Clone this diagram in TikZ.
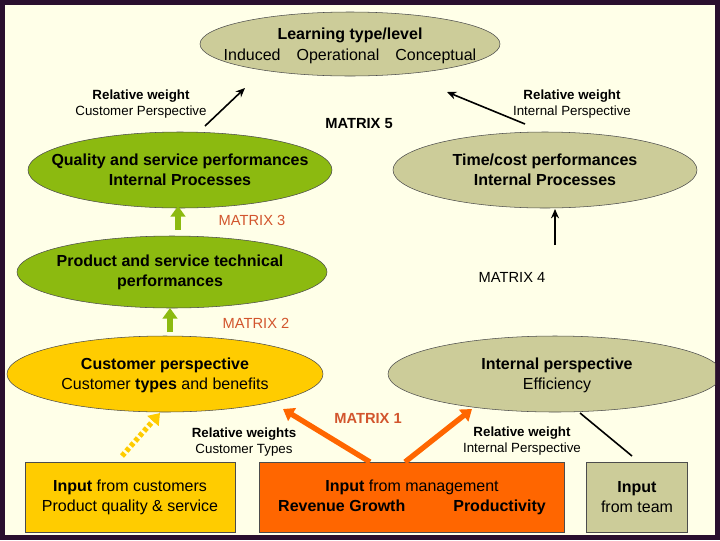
\documentclass[tikz,border=0pt]{standalone}
\usepackage{fontspec}
\setmainfont{Liberation Sans}
\usetikzlibrary{arrows.meta}
\definecolor{bord}{HTML}{2A0F2E}
\definecolor{bg}{HTML}{FFFFE8}
\definecolor{khaki}{HTML}{CCCC99}
\definecolor{grn}{HTML}{8CBA10}
\definecolor{gold}{HTML}{FFCC00}
\definecolor{orng}{HTML}{FF6600}
\definecolor{mred}{HTML}{D2552D}
\begin{document}
\begin{tikzpicture}[x=0.75pt,y=-0.75pt,
  box/.style={draw=black!70,line width=0.6pt,align=center,inner sep=0pt},
  lbl/.style={font=\fontsize{10}{12}\selectfont,align=center},
  big/.style={font=\bfseries\fontsize{12}{15}\selectfont,align=center},
  arr/.style={-{Stealth[length=7pt,width=6pt]},line width=1.2pt},
  fat/.style={-{Triangle[length=8pt,width=11pt]},line width=4pt}]
\fill[bord] (0,0) rectangle (720,540);
\fill[bg] (5,5) rectangle (715,535);
\begin{scope}
\clip (5,5) rectangle (715,535);
\path[draw=black!70,fill=khaki] (350,44) ellipse [x radius=150,y radius=32];
\path[draw=black!70,fill=grn] (180,170) ellipse [x radius=152,y radius=38];
\path[draw=black!70,fill=khaki] (545,170) ellipse [x radius=152,y radius=38];
\path[draw=black!70,fill=grn] (172,272) ellipse [x radius=155,y radius=36];
\path[draw=black!70,fill=gold] (165,374) ellipse [x radius=158,y radius=38];
\path[draw=black!70,fill=khaki] (555,374) ellipse [x radius=167,y radius=38];
\end{scope}
\node[font=\fontsize{12}{16}\selectfont,align=center] (top) at (350,46) {\textbf{Learning type/level}\\Induced\quad Operational\quad Conceptual};
\node[big] (qual) at (180,170) {Quality and service performances\\Internal Processes};
\node[big] (time) at (545,170) {Time/cost performances\\Internal Processes};
\node[big] (prod) at (170,272) {Product and service technical\\performances};
\node[font=\fontsize{12}{15}\selectfont,align=center] (cust) at (165,375) {\textbf{Customer perspective}\\Customer \textbf{types} and benefits};
\node[font=\fontsize{12}{15}\selectfont,align=center] (intp) at (557,375) {\textbf{Internal perspective}\\Efficiency};
\node[box,fill=gold,minimum width=210pt*0.75,minimum height=70pt*0.75,font=\fontsize{12}{15}\selectfont] (inc) at (130,497) {\textbf{Input} from customers\\Product quality \& service};
\node[box,fill=orng,minimum width=305pt*0.75,minimum height=70pt*0.75,font=\fontsize{12}{15}\selectfont] (inm) at (412,497) {\textbf{Input} from management\\\textbf{Revenue Growth}\hspace{3em}\textbf{Productivity}};
\node[box,fill=khaki,minimum width=101pt*0.75,minimum height=70pt*0.75,font=\fontsize{12}{15}\selectfont] (int) at (637,497) {\textbf{Input}\\from team};
\node[lbl] (l1) at (141,104) {\textbf{Relative weight}\\Customer Perspective};
\node[lbl] (l2) at (572,104) {\textbf{Relative weight}\\Internal Perspective};
\node[lbl,font=\bfseries\fontsize{11}{13}\selectfont] (m5) at (359,124) {MATRIX 5};
\node[font=\fontsize{11}{13}\selectfont,text=mred] (m3) at (252,220) {MATRIX 3};
\node[font=\fontsize{11}{13}\selectfont] (m4) at (512,277) {MATRIX 4};
\node[font=\fontsize{11}{13}\selectfont,text=mred] (m2) at (256,323) {MATRIX 2};
\node[font=\bfseries\fontsize{11}{13}\selectfont,text=mred] (m1) at (368,418) {MATRIX 1};
\node[lbl] (l3) at (244,442) {\textbf{Relative weights}\\Customer Types};
\node[lbl] (l4) at (522,441) {\textbf{Relative weight}\\Internal Perspective};
\coordinate (a1) at (205,126); \coordinate (a1e) at (245,88);
\coordinate (a2) at (525,124); \coordinate (a2e) at (447,92);
\coordinate (a3) at (555,245); \coordinate (a3e) at (555,209);
\draw[arr] (a1) -- (a1e);
\draw[arr] (a2) -- (a2e);
\draw[arr] (a3) -- (a3e);
\coordinate (g1) at (178,230); \coordinate (g1e) at (178,206);
\coordinate (g2) at (170,332); \coordinate (g2e) at (170,308);
\draw[fat,color=grn] (g1) -- (g1e);
\draw[fat,color=grn] (g2) -- (g2e);
\coordinate (d1) at (122,456); \coordinate (d1e) at (160,413);
\draw[-{Triangle[length=8pt,width=11pt]},line width=4pt,color=gold,dash pattern=on 3pt off 2pt] (d1) -- (d1e);
\coordinate (o1) at (370,462); \coordinate (o1e) at (283,409);
\coordinate (o2) at (405,462); \coordinate (o2e) at (472,409);
\draw[fat,color=orng] (o1) -- (o1e);
\draw[fat,color=orng] (o2) -- (o2e);
\coordinate (t1) at (632,456); \coordinate (t1e) at (580,413);
\draw[line width=1.2pt] (t1) -- (t1e);
\end{tikzpicture}
\end{document}
